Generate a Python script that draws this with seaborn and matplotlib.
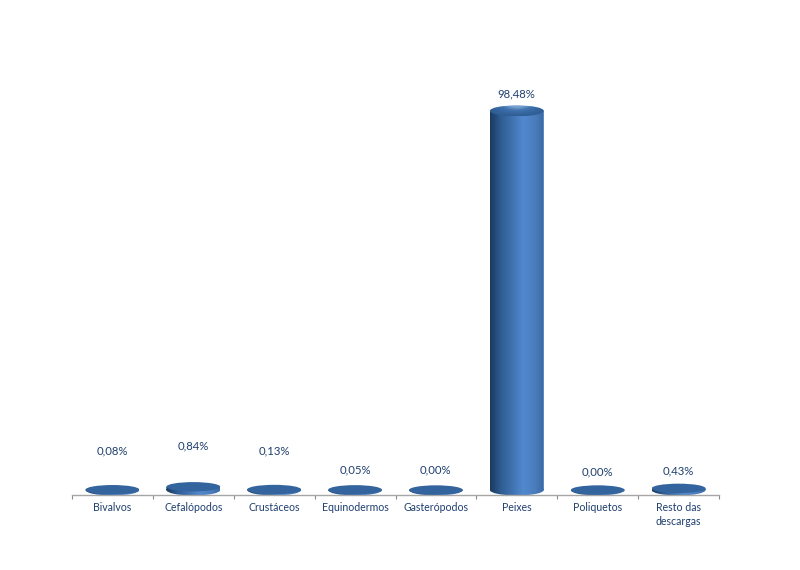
import numpy as np
import pandas as pd
import matplotlib
matplotlib.use("Agg")
import matplotlib.pyplot as plt
from matplotlib.colors import LinearSegmentedColormap
from matplotlib.patches import Ellipse
from matplotlib.path import Path
from matplotlib.transforms import Affine2D
import seaborn as sns

categories = ["Bivalvos", "Cefalópodos", "Crustáceos", "Equinodermos",
              "Gasterópodos", "Peixes", "Poliquetos", "Resto das\ndescargas"]
values = [0.08, 0.84, 0.13, 0.05, 0.00, 98.48, 0.00, 0.43]
value_labels = ["0,08%", "0,84%", "0,13%", "0,05%", "0,00%", "98,48%", "0,00%", "0,43%"]

label_gap_px = [39, 41, 38.5, 20, 20, 17, 18, 17]
TEXT = "#1F3F6E"

sns.set_theme(style="white")
plt.rcParams["font.family"] = ["Lato", "DejaVu Sans"]

fig = plt.figure(figsize=(8, 5.7), dpi=100, facecolor="white")
ax = fig.add_axes([72 / 800, 1 - 494.5 / 570, (719 - 72) / 800, (494.5 - 60) / 570])

df = pd.DataFrame({"cat": categories, "val": values})
sns.barplot(data=df, x="cat", y="val", ax=ax, width=0.667, color="#34608F", saturation=1)

px_per_unit = 3.85
ax.set_xlim(-0.5, len(categories) - 0.5)
ax.set_ylim(-4.5 / px_per_unit, 430 / px_per_unit)
xlim, ylim = ax.get_xlim(), ax.get_ylim()
cap_h = 11 / px_per_unit

body_cmap = LinearSegmentedColormap.from_list(
    "body", [(0, "#1B3A60"), (0.2, "#2F5C92"), (0.62, "#5189CF"), (0.85, "#4A7CBB"), (1, "#386AA6")])
cap_cmap = LinearSegmentedColormap.from_list(
    "cap", [(0, "#2E5C92"), (0.5, "#3F72AE"), (0.85, "#7FA8D6"), (1, "#5C8DC6")])

for bar, value, text, gap in zip(ax.patches, values, value_labels, label_gap_px):
    x, w, h = bar.get_x(), bar.get_width(), bar.get_height()
    cx = x + w / 2
    bar.set_visible(False)

    # cylinder body with its rounded bottom
    rect = Path.unit_rectangle().transformed(Affine2D().scale(w, h).translate(x, 0))
    base = Path.unit_circle().transformed(Affine2D().scale(w / 2, cap_h / 2).translate(cx, 0))
    outline = Path.make_compound_path(rect, base)
    im = ax.imshow(np.linspace(0, 1, 128)[None, :], cmap=body_cmap, aspect="auto",
                   extent=[x, x + w, -cap_h / 2, h], zorder=2)
    im.set_clip_path(outline, ax.transData)

    # top cap
    cap = Ellipse((cx, h), w, cap_h * (1 if value > 1 else 0.85), facecolor="none",
                  edgecolor="none", zorder=3)
    ax.add_patch(cap)
    if value > 1:
        v = np.linspace(1, 0, 64)[:, None]
        u = 1 - np.abs(np.linspace(-1, 1, 64))[None, :] ** 1.5
        grad = v * u
    else:
        grad = np.full((4, 1), 0.2)
    im2 = ax.imshow(grad, cmap=cap_cmap, vmin=0, vmax=1, aspect="auto",
                    extent=[x, x + w, h - cap_h / 2, h + cap_h / 2], zorder=3)
    im2.set_clip_path(cap)

    ax.annotate(text, (cx, h), xytext=(0, gap * 0.72), textcoords="offset points",
                ha="center", va="center", fontsize=8.2, color=TEXT)

ax.set_xlim(xlim)
ax.set_ylim(ylim)
ax.set_xlabel("")
ax.set_ylabel("")
ax.set_yticks([])
ax.set_xticks(range(len(categories)))
ax.set_xticklabels(categories, fontsize=7.6, color=TEXT, linespacing=1.3)
ax.set_xticks(np.arange(len(categories) + 1) - 0.5, minor=True)
ax.tick_params(axis="x", which="major", length=0, pad=5.5, bottom=True)
ax.tick_params(axis="x", which="minor", length=3, width=0.8, color="#8C8C8C", bottom=True)
sns.despine(ax=ax, left=True)
ax.spines["bottom"].set_color("#A6A6A6")
ax.spines["bottom"].set_linewidth(1)
ax.patch.set_alpha(0)

fig.savefig("out.png", dpi=100, facecolor="white")
